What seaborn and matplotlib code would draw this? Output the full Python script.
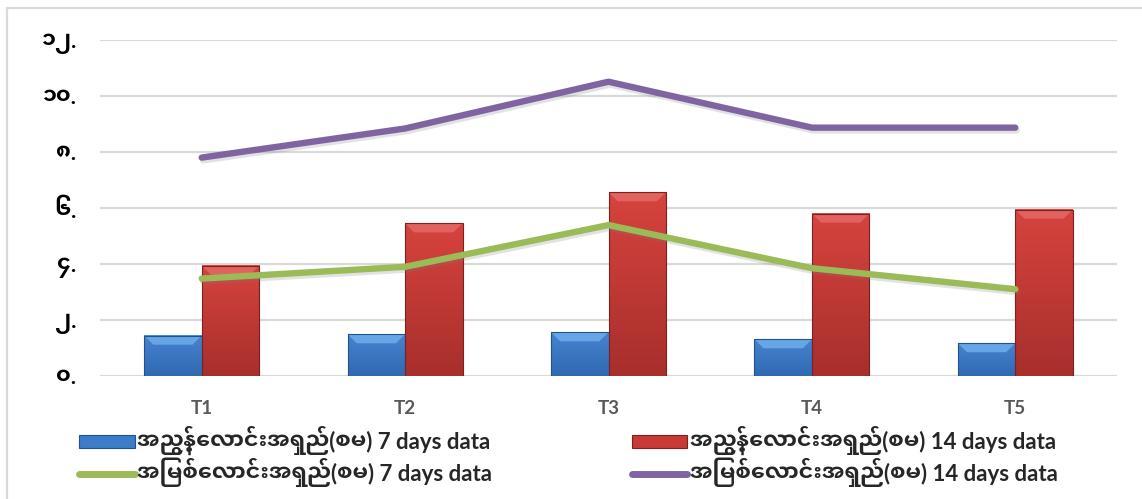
import numpy as np
import pandas as pd
import seaborn as sns
import matplotlib
matplotlib.use("Agg")
import matplotlib.pyplot as plt
from matplotlib import patheffects as pe
from matplotlib.patches import Patch, Polygon
from matplotlib.lines import Line2D
from matplotlib.colors import LinearSegmentedColormap

# ---- data -------------------------------------------------------------
categories = ["T1", "T2", "T3", "T4", "T5"]
shoot_7 = [1.44, 1.49, 1.56, 1.31, 1.17]
shoot_14 = [3.94, 5.45, 6.56, 5.80, 5.94]
root_7 = [3.48, 3.90, 5.39, 3.85, 3.10]
root_14 = [7.80, 8.84, 10.51, 8.87, 8.87]

y_ticks = [0, 2, 4, 6, 8, 10, 12]
y_tick_labels = ["၀.", "၂.", "၄.", "၆.", "၈.", "၁၀.", "၁၂."]

label_shoot_7 = "အညွန့်လောင်းအရှည်(စမ) 7 days data"
label_shoot_14 = "အညွန့်လောင်းအရှည်(စမ) 14 days data"
label_root_7 = "အမြစ်လောင်းအရှည်(စမ) 7 days data"
label_root_14 = "အမြစ်လောင်းအရှည်(စမ) 14 days data"

# ---- colours ----------------------------------------------------------
BLUE = "#3D7CC8"
RED = "#C93A36"
GREEN = "#9BBB59"
PURPLE = "#8064A2"
GRID = "#D9D9D9"

MYANMAR = "Noto Sans Myanmar UI"


def display_order(text):
    """Agg draws glyphs in stored order without shaping, so put the
    pre-base vowel sign E and medial RA in front of their consonant."""
    out = []
    for ch in text:
        if ch in ("\u1031", "\u103C"):
            j = len(out) - 1
            while j > 0 and not ("\u1000" <= out[j] <= "\u102A"):
                j -= 1
            if ch == "\u1031" and j > 0 and out[j - 1] == "\u103C":
                j -= 1
            out.insert(j, ch)
        else:
            out.append(ch)
    return "".join(out)


sns.set_style("white")
plt.rcParams["font.family"] = ["Lato", MYANMAR]

fig = plt.figure(figsize=(11.42, 4.99), dpi=100)
ax = fig.add_axes([100 / 1142, 1 - 376 / 499, 1017 / 1142, 336 / 499])

# ---- clustered bars ---------------------------------------------------
bars_df = pd.DataFrame({
    "period": categories * 2,
    "value": shoot_7 + shoot_14,
    "series": [label_shoot_7] * len(categories) + [label_shoot_14] * len(categories),
})
sns.barplot(data=bars_df, x="period", y="value", hue="series",
            hue_order=[label_shoot_7, label_shoot_14], palette=[BLUE, RED],
            width=0.565, saturation=1, legend=False, ax=ax, zorder=2)

bar_styles = {
    BLUE: dict(top="#4683CF", bottom="#3169B2", bevel="#66A6E6", edge="#23518E"),
    RED: dict(top="#D6433E", bottom="#A82F2C", bevel="#E2625F", edge="#7C2020"),
}
px_y = 12 / 336
for patch in list(ax.patches):
    x, w, h = patch.get_x(), patch.get_width(), patch.get_height()
    if h <= 0:
        continue
    fc = matplotlib.colors.to_hex(patch.get_facecolor())
    style = bar_styles[BLUE] if fc.lower() == BLUE.lower() else bar_styles[RED]
    cmap = LinearSegmentedColormap.from_list("g", [style["bottom"], style["top"]])
    grad = np.linspace(0, 1, 64).reshape(-1, 1)
    ax.imshow(grad, extent=[x, x + w, 0, h], origin="lower", aspect="auto",
              cmap=cmap, zorder=2.1)
    dx, dy = 0.16 * w, min(9 * px_y, h * 0.4)
    ax.add_patch(Polygon([[x, h], [x + w, h], [x + w - dx, h - dy], [x + dx, h - dy]],
                         closed=True, facecolor=style["bevel"], edgecolor="none",
                         zorder=2.2))
    patch.set_facecolor("none")
    patch.set_edgecolor(style["edge"])
    patch.set_linewidth(0.8)
    patch.set_zorder(2.3)

# ---- lines ------------------------------------------------------------
positions = np.arange(len(categories))
shadow = [pe.SimpleLineShadow(offset=(1.0, -2.0), shadow_color="#7F7F7F", alpha=0.22),
          pe.Normal()]
sns.lineplot(x=positions, y=root_7, color=GREEN, linewidth=4.6, ax=ax,
             solid_capstyle="round", solid_joinstyle="round",
             path_effects=shadow, zorder=4)
sns.lineplot(x=positions, y=root_14, color=PURPLE, linewidth=4.6, ax=ax,
             solid_capstyle="round", solid_joinstyle="round",
             path_effects=shadow, zorder=4)

# ---- axes -------------------------------------------------------------
ax.set_xlim(-0.5, len(categories) - 0.5)
ax.set_ylim(0, 12)
ax.set_xticks(positions)
ax.set_xticklabels(categories, fontsize=13.5, fontweight="bold", color="#595959",
                   family=["Lato", MYANMAR])
ax.set_yticks(y_ticks)
ax.set_yticklabels(y_tick_labels, fontsize=16, fontweight="bold", color="black",
                   family=[MYANMAR, "Lato"])
ax.tick_params(axis="x", length=0, pad=17)
ax.tick_params(axis="y", length=0, pad=17)
ax.set_xlabel("")
ax.set_ylabel("")
ax.yaxis.grid(True, color=GRID, linewidth=1.6)
ax.xaxis.grid(False)
ax.set_axisbelow(True)
for spine in ax.spines.values():
    spine.set_visible(False)

# ---- legend -----------------------------------------------------------
handles = [
    Patch(facecolor=BLUE, edgecolor="#23518E", linewidth=0.8),
    Line2D([], [], color=GREEN, linewidth=5, solid_capstyle="round"),
    Patch(facecolor=RED, edgecolor="#7C2020", linewidth=0.8),
    Line2D([], [], color=PURPLE, linewidth=5, solid_capstyle="round"),
]
labels = [display_order(s) for s in (label_shoot_7, label_root_7, label_shoot_14, label_root_14)]
fig.legend(handles, labels, ncol=2, loc="upper left",
           bbox_to_anchor=(68 / 1142, 1 - 415 / 499), bbox_transform=fig.transFigure,
           frameon=False, borderpad=0, handlelength=2.5, handleheight=0.5,
           handletextpad=0.1, columnspacing=6.3, labelspacing=0.12,
           prop={"family": ["Lato", MYANMAR], "weight": "bold", "size": 16})

# ---- chart frame ------------------------------------------------------
fig.add_artist(Line2D([7 / 1142, 1], [1 - 8 / 499, 1 - 8 / 499], color=GRID,
                      linewidth=1.6, transform=fig.transFigure))
fig.add_artist(Line2D([7 / 1142, 7 / 1142], [0, 1 - 8 / 499], color=GRID,
                      linewidth=1.6, transform=fig.transFigure))

fig.savefig("out.png", dpi=100)
